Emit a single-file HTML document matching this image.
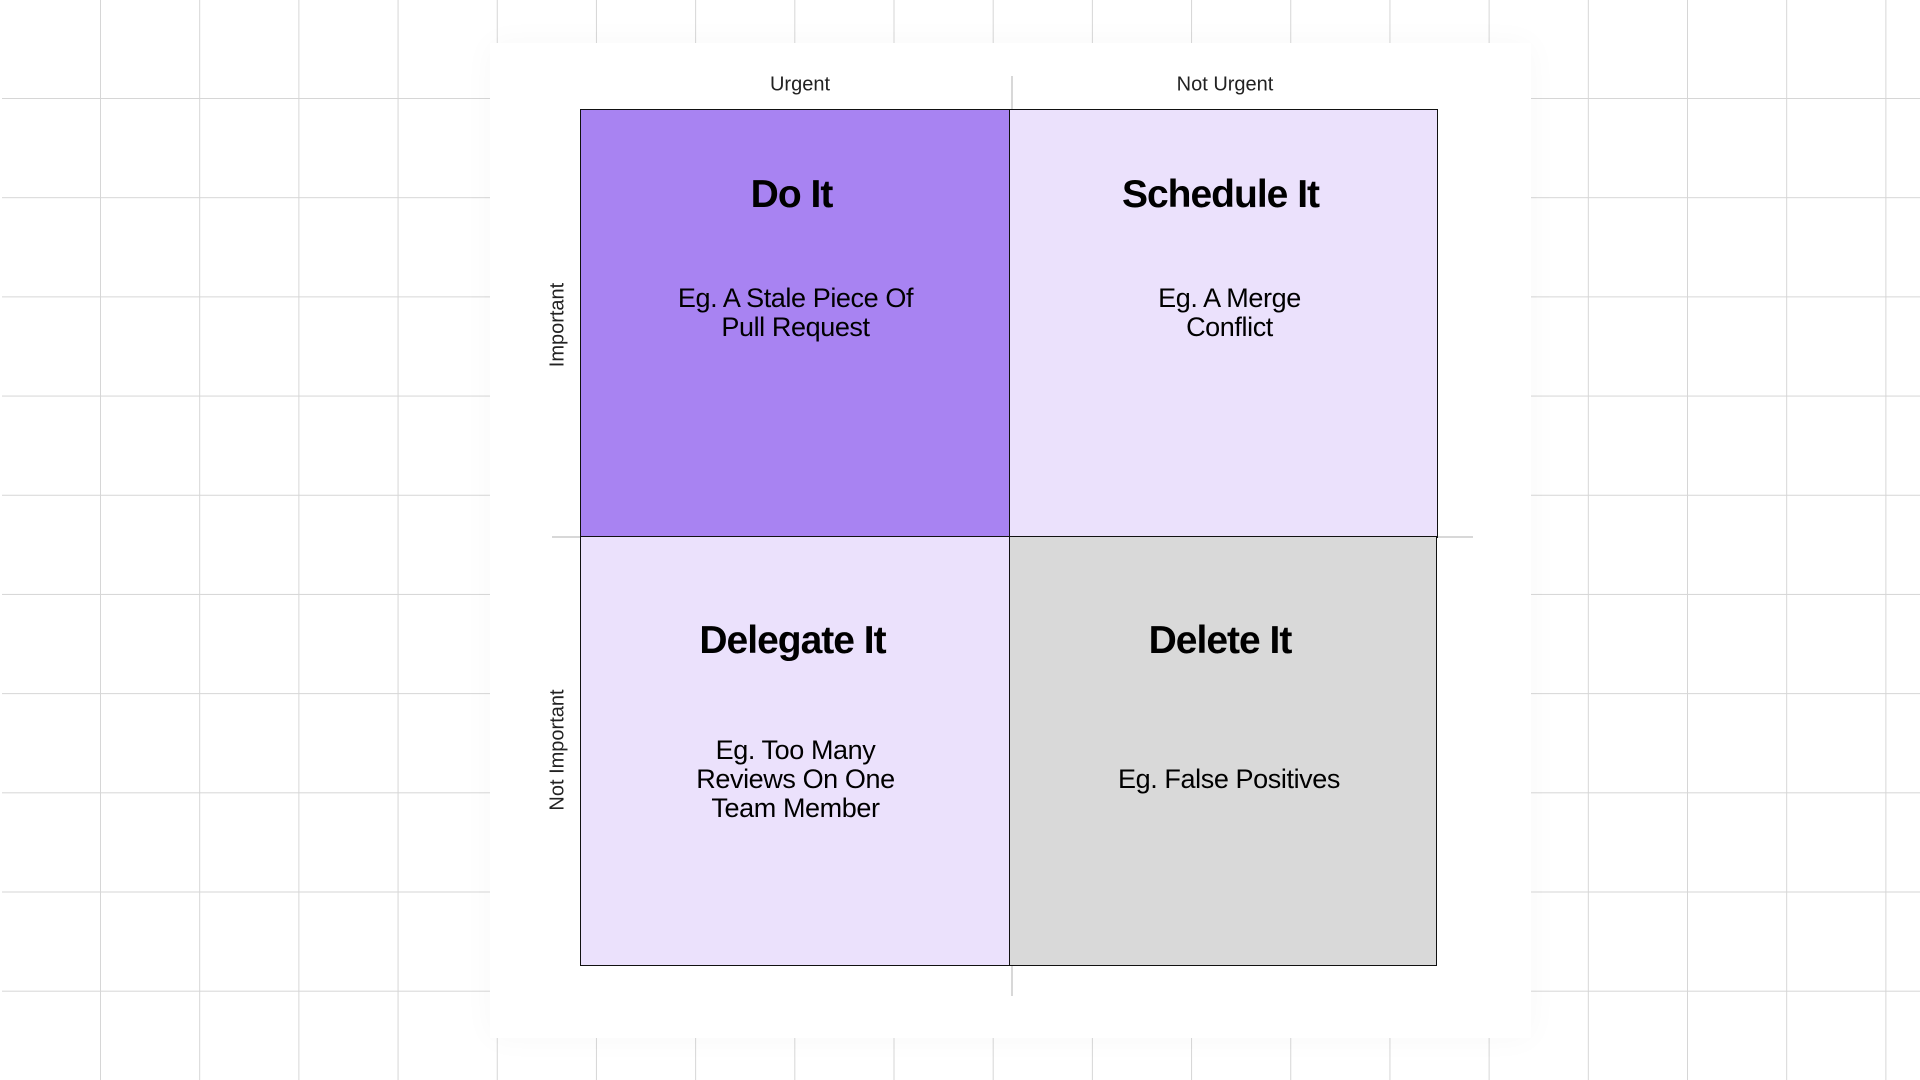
<!DOCTYPE html>
<html><head><meta charset="utf-8"><style>
html,body{margin:0;padding:0;width:1920px;height:1080px;overflow:hidden;background:#fff;font-family:"Liberation Sans",sans-serif;}
.grid{position:absolute;inset:0;background-image:linear-gradient(to right,#d6d6d6 1px,transparent 1px),linear-gradient(to bottom,#d6d6d6 1px,transparent 1px);background-size:99.2px 99.2px;background-position:100px 98px;}
.panel{position:absolute;left:490px;top:43px;width:1041px;height:995px;background:#fff;box-shadow:0 0 30px rgba(0,0,0,0.03);}
.q{position:absolute;border:1.5px solid #111;box-sizing:border-box;}
.t{position:absolute;width:100%;text-align:center;font-weight:bold;font-size:39px;letter-spacing:-1px;color:#000;}
.b{position:absolute;width:100%;text-align:center;font-size:27px;line-height:29px;letter-spacing:-0.4px;color:#000;}
.lab{position:absolute;font-size:20px;color:#222;white-space:nowrap;transform:translate(-50%,-50%);}
.rot{transform:translate(-50%,-50%) rotate(-90deg);}
</style></head><body>
<div class="grid"></div>
<div style="position:absolute;left:0;top:0;width:2px;height:1080px;background:#fff"></div>
<div class="panel"></div>
<div style="position:absolute;left:1011px;top:76px;width:2px;height:920px;background:#d8d8d8"></div>
<div style="position:absolute;left:552px;top:536px;width:921px;height:2px;background:#d8d8d8"></div>
<div class="lab" style="left:800px;top:85px">Urgent</div>
<div class="lab" style="left:1225px;top:85px">Not Urgent</div>
<div class="lab rot" style="left:558px;top:325px">Important</div>
<div class="lab rot" style="left:558px;top:750px">Not Important</div>

<div class="q" style="left:580px;top:109px;width:431px;height:429px;background:#a883f2">
<div class="t" style="top:63px;left:-4px">Do It</div>
<div class="b" style="top:174px">Eg. A Stale Piece Of<br>Pull Request</div></div>
<div class="q" style="left:1009px;top:109px;width:429px;height:429px;background:#ebe1fc">
<div class="t" style="top:63px;left:-3px">Schedule It</div>
<div class="b" style="top:174px;left:6px">Eg. A Merge<br>Conflict</div></div>
<div class="q" style="left:580px;top:536px;width:431px;height:430px;background:#ebe1fc">
<div class="t" style="top:82px;left:-3px">Delegate It</div>
<div class="b" style="top:199px">Eg. Too Many<br>Reviews On One<br>Team Member</div></div>
<div class="q" style="left:1009px;top:536px;width:428px;height:430px;background:#d9d9d9">
<div class="t" style="top:82px;left:-3px">Delete It</div>
<div class="b" style="top:228px;left:6px">Eg. False Positives</div></div>
</body></html>
